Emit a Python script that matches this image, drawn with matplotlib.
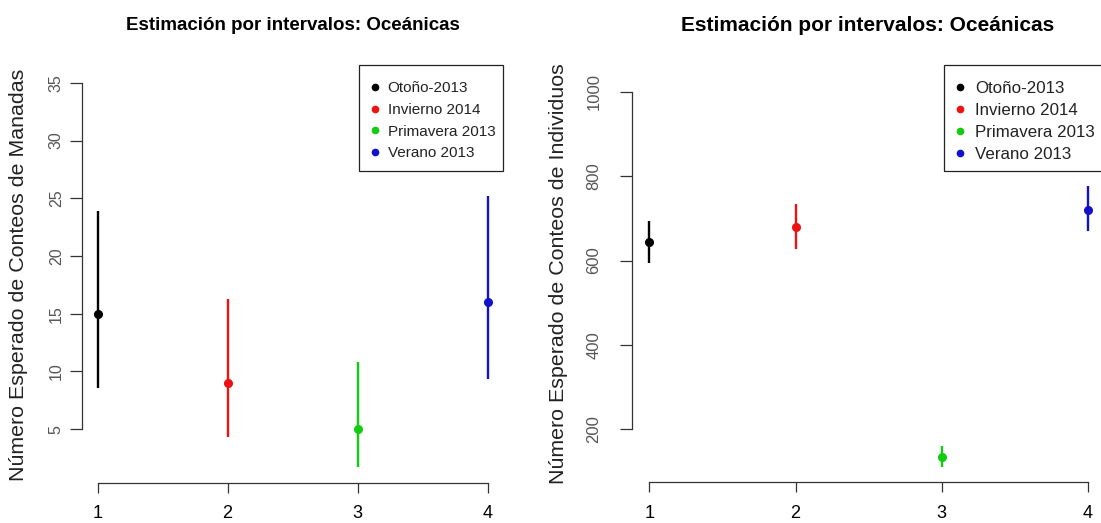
import matplotlib
matplotlib.use("Agg")
import matplotlib.pyplot as plt
from matplotlib.lines import Line2D
from matplotlib.patches import Rectangle

plt.rcParams['font.family'] = ['Liberation Sans', 'DejaVu Sans']

# season order used on the x axis (1..4)
seasons = ["Otoño-2013", "Invierno 2014", "Primavera 2013", "Verano 2013"]
season_pos = [1, 2, 3, 4]
season_colors = ["#000000", "#EE1111", "#11CC11", "#1111CC"]

# expected counts of pods (manadas) with interval bounds
manadas_est = [15, 9, 5, 16]
manadas_lo = [8.6, 4.3, 1.7, 9.3]
manadas_hi = [23.9, 16.3, 10.8, 25.2]
manadas_ticks = [5, 10, 15, 20, 25, 30, 35]

# expected counts of individuals with interval bounds
indiv_est = [645, 680, 133, 721]
indiv_lo = [595, 628, 110, 671]
indiv_hi = [695, 733, 160, 778]
indiv_ticks = [200, 400, 600, 800, 1000]

titulo = "Estimación por intervalos: Oceánicas"

W, H = 1101, 523


def r_range(lo, hi):
    # base R pads the data range by 4% on each side
    d = (hi - lo) * 0.04
    return lo - d, hi + d


def px(x, y):
    # pixel position (from top-left) -> figure fraction
    return x / W, 1 - y / H


def panel(ax, est, lo, hi, yticks, ylabel, ytick_size, ytick_pad):
    for x, e, l, h, c in zip(season_pos, est, lo, hi, season_colors):
        ax.plot([x, x], [l, h], color=c, lw=1.7, solid_capstyle="butt")
        ax.plot(x, e, "o", color=c, ms=5.5)

    ax.set_xlim(*r_range(1, 4))
    ax.set_ylim(*r_range(min(lo), yticks[-1]))

    for s in ("top", "right"):
        ax.spines[s].set_visible(False)
    ax.spines["left"].set_bounds(yticks[0], yticks[-1])
    ax.spines["bottom"].set_bounds(1, 4)
    for s in ("left", "bottom"):
        ax.spines[s].set_color("#333333")
        ax.spines[s].set_linewidth(0.9)

    ax.set_xticks(season_pos)
    ax.set_yticks(yticks)
    ax.set_yticklabels([str(t) for t in yticks], rotation=90, va="center")
    ax.tick_params(axis="x", direction="out", length=7.5, width=0.9,
                   color="#333333", labelsize=13, pad=9, labelcolor="black")
    ax.tick_params(axis="y", direction="out", length=8.5, width=0.9,
                   color="#333333", labelsize=ytick_size, pad=ytick_pad,
                   labelcolor="#555555")

    ax.set_ylabel(ylabel, fontsize=15.4, color="#222222")


def season_legend(fig, box, marker_x, first_row_y, size, spacing):
    # R-style legend: dots + labels, framed by a plain rectangle
    fs_px = size * 100 / 72
    hl = 0.8
    handles = [Line2D([], [], ls="", marker="o", ms=4.5, color=c) for c in season_colors]
    leg = fig.legend(handles, seasons, loc="upper left",
                     bbox_to_anchor=px(marker_x - hl * fs_px / 2, first_row_y - 0.46 * fs_px),
                     bbox_transform=fig.transFigure, fontsize=size, frameon=False,
                     handlelength=hl, handletextpad=0.46, labelspacing=spacing,
                     borderpad=0, borderaxespad=0)
    for t in leg.get_texts():
        t.set_color("#222222")
    x0, y0, x1, y1 = box
    fx, fy = px(x0, y1)
    fig.add_artist(Rectangle((fx, fy), (x1 - x0) / W, (y1 - y0) / H,
                             transform=fig.transFigure, fill=False,
                             edgecolor="#222222", lw=0.9, clip_on=True))


fig = plt.figure(figsize=(W / 100, H / 100), dpi=100)

ax1 = fig.add_axes([0.0744, 0.0774, 0.3826, 0.7935])
panel(ax1, manadas_est, manadas_lo, manadas_hi, manadas_ticks,
      "Número Esperado de Conteos de Manadas", 11.5, 4.5)
ax1.yaxis.set_label_coords(-0.127, 0.5)

ax2 = fig.add_axes([0.5739, 0.0784, 0.4300, 0.7744])
panel(ax2, indiv_est, indiv_lo, indiv_hi, indiv_ticks,
      "Número Esperado de Conteos de Individuos", 12, 13.5)
ax2.yaxis.set_label_coords(-0.134, 0.515)

season_legend(fig, (359, 65, 503, 171), 374.6, 88.5, 11, 0.5)
season_legend(fig, (943.5, 65, 1106, 171), 960.4, 88.5, 12.2, 0.42)

fig.text(0.2661, 0.952, titulo, ha="center", va="center",
         fontsize=13.5, fontweight="bold")
fig.text(0.7884, 0.952, titulo, ha="center", va="center",
         fontsize=15, fontweight="bold")

fig.savefig("out.png", dpi=100, facecolor="white")
